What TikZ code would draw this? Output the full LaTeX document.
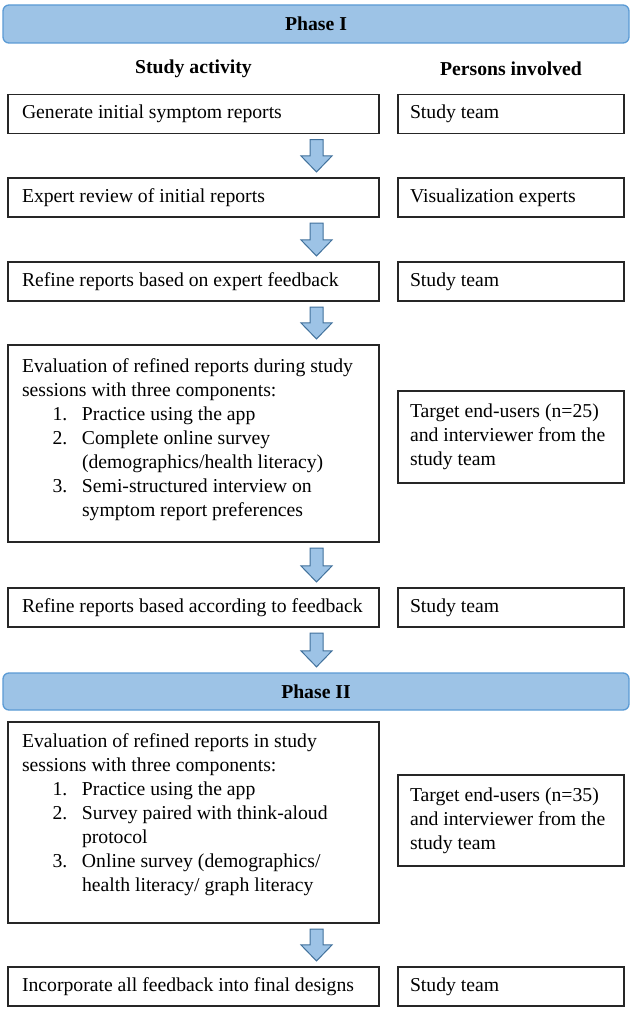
\documentclass[tikz,border=0pt]{standalone}
\usepackage{fontspec}
\setmainfont{Liberation Serif}
\usetikzlibrary{calc}
\definecolor{barfill}{HTML}{9DC3E6}
\definecolor{barline}{HTML}{5B9BD5}
\definecolor{arrowline}{HTML}{41719C}
\newcommand\bodyfont{\fontsize{19.7}{23.9}\selectfont}
\newcommand\itm[1]{\hspace*{30.5pt}\makebox[29.5pt][l]{#1}}
\newcommand\cont{\hspace*{60pt}}
\newcommand\aline[1]{\makebox[343pt][l]{#1}}
\newcommand\pline[1]{\makebox[202pt][l]{#1}}
\begin{document}
\begin{tikzpicture}[x=1pt,y=-1pt,
  abox/.style={draw=black!85, line width=1.1pt, fill=white, inner xsep=14pt, inner ysep=0pt, minimum width=371pt, minimum height=39pt, align=left, font=\bodyfont},
  pbox/.style={abox, inner xsep=12pt, minimum width=226pt},
  phase/.style={draw=barline, fill=barfill, line width=1.3pt, rounded corners=6pt, minimum width=626pt, minimum height=38pt, inner sep=0pt, font=\bodyfont\bfseries},
  head/.style={font=\bodyfont\bfseries, inner sep=0pt},
  barrow/.style={draw=arrowline, fill=barfill, line width=1pt, line join=miter,
    to path={let \p1=(\tikztostart), \p2=(\tikztotarget) in
      (\x1-6.5pt,\y1-5.5pt) -- (\x1+6.5pt,\y1-5.5pt) -- (\x1+6.5pt,\y2+21.5pt) -- (\x1+15.5pt,\y2+21.5pt) -- (\x1,\y2+5.5pt) -- (\x1-15.5pt,\y2+21.5pt) -- (\x1-6.5pt,\y2+21.5pt) -- cycle}}
]
\fill[white] (0,0) rectangle (633,1011);
\useasboundingbox (0,0) rectangle (633,1011);
\coordinate (ax) at (316.5,0);

\node[phase] (ph1) at (316,24) {Phase I};
\node[head] (h1) at (193.5,69) {Study activity};
\node[head] (h2) at (511,69) {Persons involved};

\node[abox] (a1) at (193.5,114) {\aline{Generate initial symptom reports}};
\node[pbox] (p1) at (511,114) {\pline{Study team}};

\node[abox] (a2) at (193.5,197.5) {\aline{Expert review of initial reports}};
\node[pbox] (p2) at (511,197.5) {\pline{Visualization experts}};

\node[abox] (a3) at (193.5,281.5) {\aline{Refine reports based on expert feedback}};
\node[pbox] (p3) at (511,281.5) {\pline{Study team}};

\node[abox] (a4) at (193.5,443.5) {\parbox[c][197pt][t]{343pt}{\vspace*{14pt}Evaluation of refined reports during study\\
sessions with three components:\\
\itm{1.}Practice using the app\\
\itm{2.}Complete online survey\\
\cont(demographics/health literacy)\\
\itm{3.}Semi-structured interview on\\
\cont symptom report preferences}};
\node[pbox] (p4) at (511,437) {\parbox[c][92pt][t]{202pt}{\vspace*{13pt}Target end-users (n=25)\\
and interviewer from the\\
study team}};

\node[abox] (a5) at (193.5,607.5) {\aline{Refine reports based according to feedback}};
\node[pbox] (p5) at (511,607.5) {\pline{Study team}};

\node[phase, minimum height=37pt] (ph2) at (316,691.5) {Phase II};

\node[abox] (b1) at (193.5,822.5) {\parbox[c][201pt][t]{343pt}{\vspace*{12pt}Evaluation of refined reports in study\\
sessions with three components:\\
\itm{1.}Practice using the app\\
\itm{2.}Survey paired with think-aloud\\
\cont protocol\\
\itm{3.}Online survey (demographics/\\
\cont health literacy/ graph literacy}};
\node[pbox] (q1) at (511,820.5) {\parbox[c][91pt][t]{202pt}{\vspace*{13pt}Target end-users (n=35)\\
and interviewer from the\\
study team}};

\node[abox] (b2) at (193.5,986.5) {\aline{Incorporate all feedback into final designs}};
\node[pbox] (q2) at (511,986.5) {\pline{Study team}};

\draw[barrow] (a1.south -| ax) to (a2.north -| ax);
\draw[barrow] (a2.south -| ax) to (a3.north -| ax);
\draw[barrow] (a3.south -| ax) to (a4.north -| ax);
\draw[barrow] (a4.south -| ax) to (a5.north -| ax);
\draw[barrow] (a5.south -| ax) to (ph2.north -| ax);
\draw[barrow] (b1.south -| ax) to (b2.north -| ax);
\end{tikzpicture}
\end{document}
